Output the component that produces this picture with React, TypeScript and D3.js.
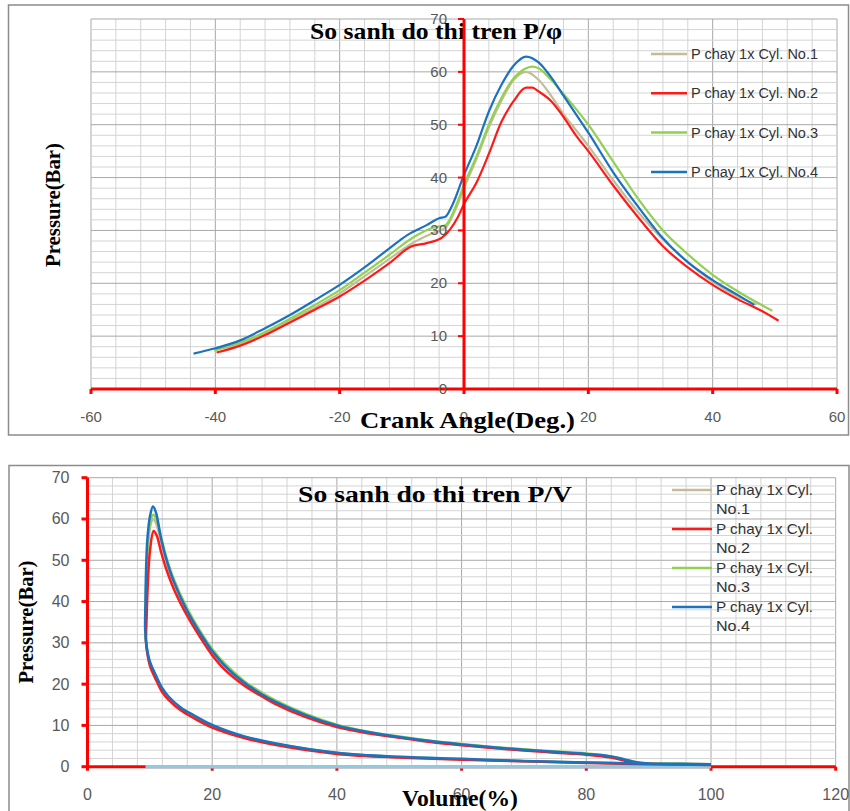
import React from 'react';
import * as d3 from 'd3';

// ---- data: P / crank angle (deg, bar) ----
const seriesNames = ['P chay 1x Cyl. No.1', 'P chay 1x Cyl. No.2', 'P chay 1x Cyl. No.3', 'P chay 1x Cyl. No.4'];
const seriesColors = ['#c4bc98', '#ff1a1a', '#92d050', '#1a72c0'];

const phiCyl1 = [[-40,7.4],[-36,8.6],[-32,10.5],[-28,13],[-24,15.4],[-20,18.1],[-16,21.3],[-12,24.6],[-8,27.8],[-5,29.5],[-3,30.5],[-1,35],[0,38],[2,43.5],[4,49.5],[6,54.5],[8,58.5],[10,60],[12,58.5],[14,55.5],[16,52],[18,49],[20,46],[24,39.5],[28,33.5],[32,28.3],[36,24],[40,20.3],[44,17.5],[47,16]];
const phiCyl2 = [[-39.8,6.9],[-36,8.2],[-32,10.2],[-28,12.6],[-24,15],[-20,17.5],[-16,20.5],[-12,23.8],[-8.6,26.9],[-6,27.6],[-3.5,28.7],[-1,32.5],[0,35],[2,39],[4,44.5],[6,50.5],[8,54.5],[10,57],[11,57],[12,56.3],[14,54.5],[16,51.5],[18,48],[20,45],[24,38.5],[28,32.5],[32,27],[36,23],[40,19.7],[44,17],[48,14.7],[50.6,12.9]];
const phiCyl3 = [[-40.2,7.3],[-36,8.8],[-32,10.8],[-28,13.3],[-24,15.9],[-20,18.7],[-16,22],[-12,25.4],[-8,28.8],[-5,30.5],[-3,31],[-1,35.5],[0,38.6],[2,44],[4,50],[6,55],[8,58.8],[10,60.7],[11,61],[12,60.7],[14,58.5],[16,55.8],[18,53],[20,50],[24,43],[28,36],[32,30],[36,25.5],[40,21.6],[44,18.5],[49.6,14.8]];
const phiCyl4 = [[-43.5,6.7],[-40,7.7],[-36,9.2],[-32,11.5],[-28,14],[-24,16.8],[-20,19.7],[-16,23],[-12,26.6],[-9,29.2],[-6,31],[-4,32.3],[-3,32.6],[-2,34.5],[0,40.5],[2,46],[4,52.5],[6,57.5],[8,61.2],[10,62.9],[12,61.8],[14,59],[16,55.5],[18,52],[20,48.5],[24,41],[28,34.5],[32,28.5],[36,24],[40,20.6],[44,17.8],[46.7,15.9]];

// ---- data: P / volume (%, bar) ----
const pvCyl1 = [[100,0.5],[90,0.7],[80,1.0],[70,1.35],[60,1.8],[50,2.3],[40,3.3],[30,5.5],[25,7.2],[20,9.8],[17,12.2],[15,14],[13,16.7],[12,18.6],[11,21.6],[10,25],[9.5,28.5],[9.3,32],[9.35,40],[9.5,48],[9.7,54],[10.1,58.5],[10.5,60],[11,59],[11.7,55],[12.5,50.5],[13.8,44.8],[15.9,37.8],[18,32.3],[20,27.8],[22,24.3],[25,20.3],[28,17.4],[30,15.7],[35,12.4],[40,9.9],[45,8.3],[50,7.1],[55,6.1],[60,5.3],[65,4.6],[70,4.0],[75,3.5],[80,3.0],[84,2.4],[86,1.7],[88,1.0],[90,0.8],[95,0.7],[100,0.6]];
const pvCyl2 = [[100,0.4],[90,0.6],[80,0.9],[70,1.3],[60,1.7],[50,2.2],[40,3.1],[30,5.3],[25,7],[20,9.5],[17,11.8],[15,13.6],[13,16.2],[12,18],[11,21],[10,24.5],[9.6,27.5],[9.4,30],[9.5,37],[9.7,45],[10,52],[10.6,57.1],[11.1,56],[11.8,52],[12.6,48],[14,42.5],[16,36.5],[18,31.5],[20,27],[22,23.5],[25,19.8],[28,17],[30,15.3],[35,12],[40,9.6],[45,8.1],[50,7],[55,6],[60,5.2],[65,4.5],[70,3.9],[75,3.4],[80,2.9],[84,2.2],[86,1.5],[88,0.9],[90,0.7],[95,0.6],[100,0.5]];
const pvCyl3 = [[100,0.5],[90,0.7],[80,1.0],[70,1.35],[60,1.85],[50,2.35],[40,3.3],[30,5.6],[25,7.3],[20,9.9],[17,12.3],[15,14.1],[13,16.8],[12,18.8],[11,21.8],[10,25.2],[9.5,28.8],[9.3,32.5],[9.35,40],[9.5,48],[9.7,54.5],[10.1,59.5],[10.5,61],[11,60.2],[11.7,56.3],[12.5,51.5],[13.8,45.6],[15.9,38.6],[18,33],[20,28.5],[22,25],[25,20.9],[28,17.9],[30,16.2],[35,12.8],[40,10.2],[45,8.5],[50,7.3],[55,6.3],[60,5.5],[65,4.8],[70,4.2],[75,3.7],[80,3.2],[84,2.5],[86,1.8],[88,1.1],[90,0.8],[95,0.7],[100,0.6]];
const pvCyl4 = [[100,0.5],[90,0.7],[80,1.0],[70,1.4],[60,1.9],[50,2.4],[40,3.4],[30,5.7],[25,7.4],[20,10.1],[17,12.5],[15,14.3],[13,17],[12,19],[11,22],[10,25.5],[9.5,29],[9.25,33],[9.3,40],[9.4,48],[9.6,55],[10,60.5],[10.5,63],[11,61.5],[11.7,56],[12.5,51],[13.8,45],[15.9,38],[18,32.5],[20,28],[22,24.5],[25,20.5],[28,17.5],[30,15.8],[35,12.5],[40,10],[45,8.4],[50,7.2],[55,6.2],[60,5.4],[65,4.7],[70,4.1],[75,3.6],[80,3.1],[84,2.5],[86,1.8],[88,1.1],[90,0.8],[95,0.7],[100,0.6]];
const pvBase = [[9.3,0],[100,0]];

const phiTicks = [-60, -40, -20, 0, 20, 40, 60];
const volTicks = [0, 20, 40, 60, 80, 100, 120];
const pTicks = [0, 10, 20, 30, 40, 50, 60, 70];

const phiSeries = [phiCyl1, phiCyl2, phiCyl3, phiCyl4];
const pvSeries = [pvCyl1, pvCyl3, pvCyl2, pvCyl4];
const pvColors = [seriesColors[0], seriesColors[2], seriesColors[1], seriesColors[3]];

const labelFont = 'Liberation Sans, Arial, sans-serif';
const serif = 'Liberation Serif, Times New Roman, serif';

function Grid({ x, y, xStep, xMajor }) {
  const [x0, x1] = x.domain();
  const xs = d3.range(x0, x1 + 0.001, xStep);
  const ys = d3.range(0, 70.001, 2);
  return (
    <g>
      {xs.map((v) => (
        <line key={'v' + v} x1={x(v)} x2={x(v)} y1={y(0)} y2={y(70)}
          stroke={v % xMajor === 0 ? '#a8a8a8' : '#d4d4d4'} strokeWidth={1} />
      ))}
      {ys.map((v) => (
        <line key={'h' + v} x1={x(x0)} x2={x(x1)} y1={y(v)} y2={y(v)}
          stroke={v % 10 === 0 ? '#a8a8a8' : '#d4d4d4'} strokeWidth={1} />
      ))}
    </g>
  );
}

export default function App() {
  // top panel scales
  const xT = d3.scaleLinear().domain([-60, 60]).range([91, 837]);
  const yT = d3.scaleLinear().domain([0, 70]).range([389, 19]);
  // bottom panel scales
  const xB = d3.scaleLinear().domain([0, 120]).range([87.5, 835.7]);
  const yB = d3.scaleLinear().domain([0, 70]).range([766.7, 477.7]);

  const lineT = d3.line().x((d) => xT(d[0])).y((d) => yT(d[1])).curve(d3.curveMonotoneX);
  const lineB = d3.line().x((d) => xB(d[0])).y((d) => yB(d[1])).curve(d3.curveCatmullRom.alpha(0.5));

  return (
    <svg width={850} height={811} style={{ position: 'absolute', left: 0, top: 0, background: '#fff' }}>
      <rect x={0} y={0} width={850} height={811} fill="#fff" />

      {/* ===== top chart: P / phi ===== */}
      <rect x={8.5} y={5} width={840} height={430} fill="none" stroke="#8c8c8c" strokeWidth={1.5} />
      <Grid x={xT} y={yT} xStep={4} xMajor={20} />

      <text x={310} y={39} fontFamily={serif} fontWeight="bold" fontSize={24}
        textLength={252} lengthAdjust="spacingAndGlyphs">So sanh do thi tren P/φ</text>

      {phiSeries.map((s, i) => (
        <path key={i} d={lineT(s)} fill="none" stroke={seriesColors[i]} strokeWidth={2.2} />
      ))}

      {/* red axes */}
      <line x1={xT(-60)} x2={xT(60)} y1={yT(0)} y2={yT(0)} stroke="#ff0000" strokeWidth={3} />
      <line x1={xT(0)} x2={xT(0)} y1={yT(0)} y2={yT(70)} stroke="#ff0000" strokeWidth={3} />
      {phiTicks.map((t) => (
        <line key={'xt' + t} x1={xT(t)} x2={xT(t)} y1={yT(0)} y2={yT(0) + 5} stroke="#ff0000" strokeWidth={3} />
      ))}
      {pTicks.map((t) => (
        <line key={'yt' + t} x1={xT(0) - 6} x2={xT(0)} y1={yT(t)} y2={yT(t)} stroke="#ff0000" strokeWidth={2} />
      ))}
      {phiTicks.map((t) => (
        <text key={'xl' + t} x={xT(t)} y={422} textAnchor="middle" fontFamily={labelFont} fontSize={15} fill="#595959">{t}</text>
      ))}
      {pTicks.map((t) => (
        <text key={'yl' + t} x={xT(0) - 17} y={yT(t) + 5} textAnchor="end" fontFamily={labelFont} fontSize={15} fill="#595959">{t}</text>
      ))}

      <text transform="translate(60,205) rotate(-90)" textAnchor="middle" fontFamily={serif} fontWeight="bold" fontSize={20}
        textLength={124} lengthAdjust="spacingAndGlyphs">Pressure(Bar)</text>
      <text x={360} y={428} fontFamily={serif} fontWeight="bold" fontSize={23}
        textLength={215} lengthAdjust="spacingAndGlyphs">Crank Angle(Deg.)</text>

      {seriesNames.map((n, i) => (
        <g key={'lg' + i} transform={`translate(651,${54 + i * 39.3})`}>
          <line x1={0} x2={36} y1={0} y2={0} stroke={seriesColors[i]} strokeWidth={2.5} />
          <text x={40} y={5} fontFamily={labelFont} fontSize={14} fill="#333"
            textLength={127} lengthAdjust="spacingAndGlyphs">{n}</text>
        </g>
      ))}

      {/* ===== bottom chart: P / V ===== */}
      <rect x={9} y={465.5} width={840} height={360} fill="none" stroke="#8c8c8c" strokeWidth={1.5} />
      <Grid x={xB} y={yB} xStep={4} xMajor={20} />

      <text x={298} y={502} fontFamily={serif} fontWeight="bold" fontSize={24}
        textLength={274} lengthAdjust="spacingAndGlyphs">So sanh do thi tren P/V</text>

      <line x1={xB(0)} x2={xB(120)} y1={yB(0)} y2={yB(0)} stroke="#ff0000" strokeWidth={3} />
      <line x1={xB(0)} x2={xB(0)} y1={yB(0)} y2={yB(70)} stroke="#ff0000" strokeWidth={3} />
      {pTicks.map((t) => (
        <line key={'byt' + t} x1={xB(0) - 6} x2={xB(0)} y1={yB(t)} y2={yB(t)} stroke="#ff0000" strokeWidth={3} />
      ))}
      {volTicks.map((t) => (
        <line key={'bxt' + t} x1={xB(t)} x2={xB(t)} y1={yB(0)} y2={yB(0) + 4} stroke="#ff0000" strokeWidth={3} />
      ))}
      <path d={lineB(pvBase)} fill="none" stroke="#8ecae0" strokeWidth={3.5} />

      {pvSeries.map((s, i) => (
        <path key={'pv' + i} d={lineB(s)} fill="none" stroke={pvColors[i]} strokeWidth={2.5} />
      ))}

      {volTicks.map((t) => (
        <text key={'bxl' + t} x={xB(t)} y={800} textAnchor="middle" fontFamily={labelFont} fontSize={16} fill="#595959">{t}</text>
      ))}
      {pTicks.map((t) => (
        <text key={'byl' + t} x={xB(0) - 18} y={yB(t) + 5.5} textAnchor="end" fontFamily={labelFont} fontSize={16} fill="#595959">{t}</text>
      ))}

      <text transform="translate(33,622) rotate(-90)" textAnchor="middle" fontFamily={serif} fontWeight="bold" fontSize={20}
        textLength={123} lengthAdjust="spacingAndGlyphs">Pressure(Bar)</text>
      <text x={402} y={806} fontFamily={serif} fontWeight="bold" fontSize={23}
        textLength={116} lengthAdjust="spacingAndGlyphs">Volume(%)</text>

      {seriesNames.map((n, i) => (
        <g key={'blg' + i} transform={`translate(672,${490 + i * 39})`}>
          <line x1={0} x2={40} y1={0} y2={0} stroke={seriesColors[i]} strokeWidth={2.5} />
          <text x={44} y={5} fontFamily={labelFont} fontSize={15} fill="#333"
            textLength={97} lengthAdjust="spacingAndGlyphs">{n.slice(0, 14)}</text>
          <text x={44} y={24} fontFamily={labelFont} fontSize={15} fill="#333"
            textLength={34} lengthAdjust="spacingAndGlyphs">{n.slice(15)}</text>
        </g>
      ))}
    </svg>
  );
}
